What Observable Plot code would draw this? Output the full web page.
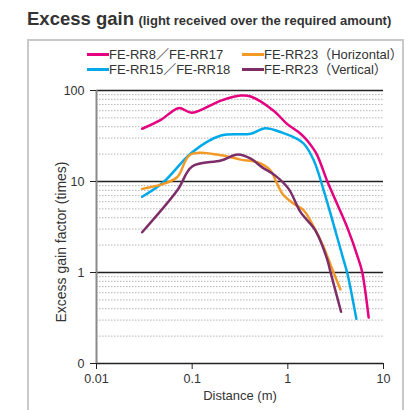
<!DOCTYPE html>
<html>
<head>
<meta charset="utf-8">
<script src="https://cdn.jsdelivr.net/npm/d3@7"></script>
<script src="https://cdn.jsdelivr.net/npm/@observablehq/plot@0.6"></script>
<style>
  html, body { margin: 0; padding: 0; background: #fff; }
  body { font-family: "Liberation Sans", Arial, "Noto Sans CJK JP", sans-serif; color: #333; }
  #wrap { position: relative; width: 408px; height: 410px; overflow: hidden; }
  #title { position: absolute; left: 27px; top: 8px; white-space: nowrap; font-weight: bold; color: #333; }
  #title .main { font-size: 18.5px; }
  #title .sub { font-size: 13px; }
  #box { position: absolute; left: 27px; top: 39px; width: 377px; height: 400px; border: 2px solid #c8c8c8; box-sizing: border-box; }
  #legend { position: absolute; left: 87px; top: 47px; font-size: 13px; color: #333; }
  .item { position: absolute; white-space: nowrap; display: flex; align-items: center; height: 15px; line-height: 15px; }
  .sw { display: inline-block; width: 22px; height: 3px; }
  #chart { position: absolute; left: 0; top: 76px; }
</style>
</head>
<body>
<div id="wrap">
  <div id="title"><span class="main">Excess gain</span> <span class="sub">(light received over the required amount)</span></div>
  <div id="box"></div>
  <div id="legend"></div>
  <div id="chart"></div>
</div>
<script>
// Series names and colours
const seriesNames = ["FE-RR8／FE-RR17", "FE-RR15／FE-RR18", "FE-RR23（Horizontal）", "FE-RR23（Vertical）"];
const seriesColors = ["#e4007f", "#00a9e8", "#f39a26", "#7d2e68"];

// Distance (m) and excess gain factor for each series
const rr8Dist = [0.03, 0.047, 0.072, 0.1, 0.2, 0.32, 0.41, 0.71, 0.98, 1.36, 1.6, 2.0, 2.57, 3.27, 4.17, 5.5, 6.0, 7.0];
const rr8Gain = [38, 47.5, 64, 57, 77.5, 88, 86, 60, 43, 33.5, 28, 20, 10.2, 5.7, 3.15, 1.38, 1.0, 0.32];

const rr15Dist = [0.03, 0.05, 0.1, 0.2, 0.41, 0.58, 0.9, 1.2, 1.47, 1.87, 2.37, 3.0, 3.84, 4.17, 5.2];
const rr15Gain = [6.8, 9.8, 21, 32, 33.5, 38.5, 34, 30, 26, 17, 8, 3.4, 1.35, 1.0, 0.31];

const rr23hDist = [0.03, 0.05, 0.07, 0.096, 0.2, 0.32, 0.48, 0.66, 0.76, 0.88, 1.15, 1.47, 1.87, 2.37, 2.9, 3.55];
const rr23hGain = [8.3, 9.4, 11.2, 19.8, 19.4, 17.4, 16.3, 13.2, 9.8, 7.3, 5.7, 4.8, 3.15, 1.9, 1.1, 0.65];

const rr23vDist = [0.03, 0.07, 0.1, 0.2, 0.3, 0.41, 0.54, 0.74, 1.02, 1.36, 1.94, 2.57, 2.8, 3.6];
const rr23vGain = [2.77, 8, 14.6, 17, 19.8, 17.8, 14.3, 11.6, 8.3, 4.6, 2.9, 1.41, 1.0, 0.37];

// Axis ticks
const xTicks = [0.01, 0.1, 1, 10];
const yTicks = [0.1, 1, 10, 100];
const yTickLabels = ["0", "1", "10", "100"];

const dists = [rr8Dist, rr15Dist, rr23hDist, rr23vDist];
const gains = [rr8Gain, rr15Gain, rr23hGain, rr23vGain];
const rows = seriesNames.flatMap((name, i) =>
  dists[i].map((d, j) => ({series: name, distance: d, gain: gains[i][j]})));

// Dotted minor grid at 2–9 in every decade
const minor = [0.1, 1, 10].flatMap(base => d3.range(2, 10).map(k => base * k));

// Legend built from the same names and colours
const legend = document.getElementById("legend");
const legendPos = [[0, 0], [0, 15], [155, 0], [155, 15]];
seriesNames.forEach((name, i) => {
  const el = document.createElement("div");
  el.className = "item";
  el.style.left = legendPos[i][0] + "px";
  el.style.top = legendPos[i][1] + "px";
  el.innerHTML = `<span class="sw" style="background:${seriesColors[i]}"></span><span>${name}</span>`;
  legend.appendChild(el);
});

const chart = Plot.plot({
  width: 408,
  height: 334,
  marginLeft: 96,
  marginRight: 25,
  marginTop: 14,
  marginBottom: 47,
  style: {fontFamily: "'Liberation Sans', Arial, sans-serif", fontSize: "12px", color: "#333", background: "transparent"},
  x: {type: "log", domain: [0.01, 10]},
  y: {type: "log", domain: [0.1, 100]},
  color: {domain: seriesNames, range: seriesColors},
  marks: [
    Plot.ruleY(minor, {stroke: "#b4b4b4", strokeDasharray: "1.5,1.5", strokeWidth: 1}),
    Plot.ruleY(yTicks, {stroke: "#222", strokeWidth: 1.3}),
    Plot.ruleX([0.01], {stroke: "#8a8a8a", strokeWidth: 2}),
    Plot.axisY({ticks: yTicks, tickSize: 6, tickPadding: 6, stroke: "#222",
      tickFormat: d => yTickLabels[yTicks.indexOf(d)], fontSize: 12.5, label: null}),
    Plot.axisX({ticks: xTicks, tickSize: 6, tickPadding: 5, stroke: "#222",
      tickFormat: d => String(d), fontSize: 12.5, label: null}),
    Plot.text(["Distance (m)"], {frameAnchor: "bottom", dy: 36, fontSize: 13, fill: "#333"}),
    Plot.text(["Excess gain factor (times)"], {frameAnchor: "left", textAnchor: "middle", rotate: -90, dx: -35, dy: 15, fontSize: 14, fill: "#333"}),
    Plot.line(rows, {x: "distance", y: "gain", stroke: "series", z: "series", strokeWidth: 2.5, curve: "catmull-rom"})
  ]
});
document.getElementById("chart").appendChild(chart);
</script>
</body>
</html>
